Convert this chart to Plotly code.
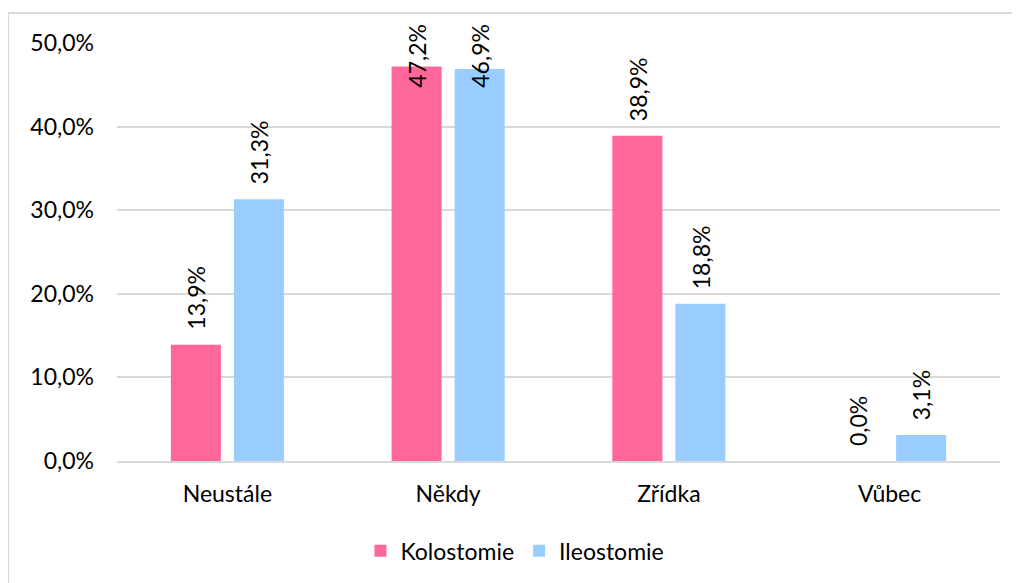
import plotly.graph_objects as go

categories = ["Neustále", "Někdy", "Zřídka", "Vůbec"]
kolostomie = [13.9, 47.2, 38.9, 0.0]
ileostomie = [31.3, 46.9, 18.8, 3.1]
series_names = ["Kolostomie", "Ileostomie"]
ytick_vals = [0, 10, 20, 30, 40, 50]
ytick_text = ["0,0%", "10,0%", "20,0%", "30,0%", "40,0%", "50,0%"]

colors = ["#FF6699", "#99CCFF"]
FONT = "Lato, Carlito, 'Open Sans', sans-serif"
FS = 23
BARGAP = 0.429
BARGROUPGAP = 0.206
YMAX = 50
LABEL_TOP_PAPER = 1.05   # top of chart area where overflowing labels are pushed
LABEL_SPAN = 10.2        # approx label length in data units

def fmt(v):
    return f"{v:.1f}".replace(".", ",") + "%"

fig = go.Figure()
for name, vals, col in zip(series_names, [kolostomie, ileostomie], colors):
    fig.add_trace(go.Bar(
        x=categories, y=vals, name=name, marker=dict(color=col, line=dict(width=0)),
    ))

offset = (1 - BARGAP) / 4
annotations = []
for s, vals in enumerate([kolostomie, ileostomie]):
    for i, v in enumerate(vals):
        xpos = i + (-offset if s == 0 else offset)
        if v + LABEL_SPAN > YMAX * LABEL_TOP_PAPER:
            annotations.append(dict(x=xpos, xref="x", y=LABEL_TOP_PAPER, yref="paper",
                                    text=fmt(v), textangle=-90, showarrow=False,
                                    yanchor="top", xanchor="center",
                                    font=dict(family=FONT, size=FS, color="#000000")))
        else:
            annotations.append(dict(x=xpos, xref="x", y=v, yref="y",
                                    text=fmt(v), textangle=-90, showarrow=False,
                                    yanchor="bottom", xanchor="center", yshift=13,
                                    font=dict(family=FONT, size=FS, color="#000000")))

border = dict(color="#D9D9D9", width=2)
fig.update_layout(
    width=1020, height=583,
    margin=dict(l=109, r=28, t=35, b=130),
    paper_bgcolor="white", plot_bgcolor="white",
    barmode="group", bargap=BARGAP, bargroupgap=BARGROUPGAP,
    font=dict(family=FONT, size=FS, color="#000000"),
    showlegend=True,
    legend=dict(orientation="h", x=0.497, xref="container", xanchor="center",
                y=0.069, yref="container", yanchor="middle",
                font=dict(family=FONT, size=FS, color="#000000"),
                itemwidth=30, bgcolor="rgba(0,0,0,0)"),
    annotations=annotations,
    shapes=[
        dict(type="line", xref="paper", yref="paper", x0=-0.1234, x1=1.1, y0=1.0718, y1=1.0718,
             line=border, layer="above"),
        dict(type="line", xref="paper", yref="paper", x0=-0.1234, x1=-0.1234, y0=-0.5, y1=1.0718,
             line=border, layer="above"),
    ],
)
fig.update_yaxes(range=[0, YMAX], tickvals=ytick_vals, ticktext=ytick_text,
                 showgrid=True, gridcolor="#D9D9D9", gridwidth=1.5,
                 zeroline=False, showline=False, ticks="", ticklabelstandoff=22,
                 tickfont=dict(family=FONT, size=FS, color="#000000"))
fig.update_xaxes(showgrid=False, showline=True, linecolor="#D9D9D9", linewidth=1.5,
                 ticks="", ticklabelstandoff=12,
                 tickfont=dict(family=FONT, size=FS, color="#000000"))

fig.write_html("out.html")
